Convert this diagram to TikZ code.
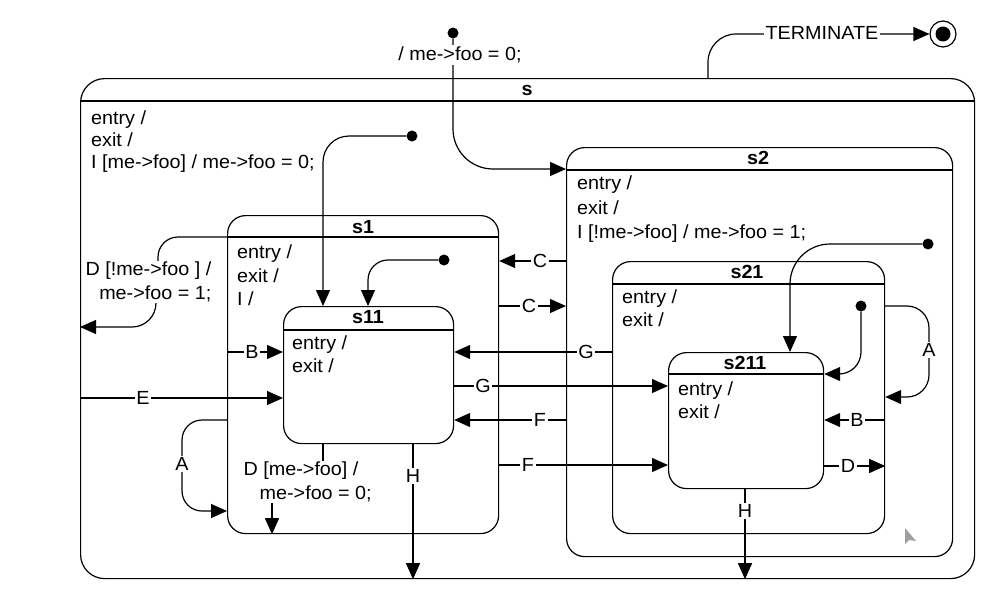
\documentclass[tikz,border=0pt]{standalone}
\usepackage{fontspec}
\setmainfont{Liberation Sans}[FakeStretch=1.04]
\usetikzlibrary{arrows.meta}
\begin{document}
\begin{tikzpicture}[x=1pt,y=-1pt,
  font=\fontsize{19}{23.5}\selectfont,
  state/.style={draw, line width=1.2pt, rounded corners=18pt, inner sep=0pt, anchor=north west},
  hdr/.style={line width=1.2pt},
  title/.style={inner sep=0pt, font=\fontsize{19}{23.5}\selectfont\bfseries},
  act/.style={inner sep=0pt, anchor=base west},
  lbl/.style={fill=white, inner sep=1.5pt},
  arr/.style={line width=1.2pt, -{Triangle[length=16pt,width=14pt]}},
  initdot/.style={circle, fill, minimum size=11pt, inner sep=0pt},
  final/.style={circle, draw, line width=1.2pt, minimum size=26pt, inner sep=0pt,
    path picture={\fill (path picture bounding box.center) circle (7.5pt);}}
]
\useasboundingbox (0,0) rectangle (1006,597);

% ---------- states ----------
\node[state, rounded corners=24pt, minimum width=894pt, minimum height=500pt] (s) at (80,78) {};
\draw[hdr] (s.west |- 0,101) -- (s.east |- 0,101);
\node[title] (st) at (527,90) {s};
\node[act] (sa1) at (91,124) {entry /};
\node[act] (sa2) at (91,146) {exit /};
\node[act] (sa3) at (91,168) {I [me->foo] / me->foo = 0;};

\node[state, minimum width=271pt, minimum height=318pt] (s1) at (227,215) {};
\draw[hdr] (s1.west |- 0,237) -- (s1.east |- 0,237);
\node[title] (s1t) at (363,227) {s1};
\node[act] (s1a1) at (237,258) {entry /};
\node[act] (s1a2) at (237,282) {exit /};
\node[act] (s1a3) at (237,305) {I /};

\node[state, minimum width=170pt, minimum height=137pt] (s11) at (283,306) {};
\draw[hdr] (s11.west |- 0,330) -- (s11.east |- 0,330);
\node[title] (s11t) at (368,317) {s11};
\node[act] (s11a1) at (292,349) {entry /};
\node[act] (s11a2) at (292,372) {exit /};

\node[state, minimum width=386pt, minimum height=409pt] (s2) at (566,147) {};
\draw[hdr] (s2.west |- 0,170) -- (s2.east |- 0,170);
\node[title] (s2t) at (758,158) {s2};
\node[act] (s2a1) at (577,189) {entry /};
\node[act] (s2a2) at (577,214) {exit /};
\node[act] (s2a3) at (577,238) {I [!me->foo] / me->foo = 1;};

\node[state, minimum width=272pt, minimum height=272pt] (s21) at (612,261) {};
\draw[hdr] (s21.west |- 0,284) -- (s21.east |- 0,284);
\node[title] (s21t) at (747,272) {s21};
\node[act] (s21a1) at (622,303) {entry /};
\node[act] (s21a2) at (622,326) {exit /};

\node[state, minimum width=155pt, minimum height=136pt] (s211) at (668,352) {};
\draw[hdr] (s211.west |- 0,374) -- (s211.east |- 0,374);
\node[title] (s211t) at (745,363) {s211};
\node[act] (s211a1) at (678,395) {entry /};
\node[act] (s211a2) at (678,418) {exit /};

% ---------- pseudo states ----------
\node[initdot] (i0) at (453,33) {};
\node[initdot] (i1) at (412,136) {};
\node[initdot] (i2) at (444,260) {};
\node[initdot] (i3) at (928,244) {};
\node[initdot] (i4) at (861,306) {};
\node[final] (fin) at (943,34) {};

% ---------- initial transitions ----------
\draw[arr, rounded corners=40pt] (i0) -- (453,169) -- (s2.west |- 0,169);
\node[lbl] (l0) at (460,55) {/ me->foo = 0;};
\draw[arr, rounded corners=26pt] (i1) -- (323,136) -- (s11.north -| 323,0);
\draw[arr, rounded corners=20pt] (i2) -- (368,260) -- (s11.north -| 368,0);
\draw[arr, rounded corners=40pt] (i3) -- (790,244) -- (s211.north -| 790,0);
\draw[arr, rounded corners=22pt] (i4) -- (861,374) -- (s211.east |- 0,374);

% ---------- TERMINATE ----------
\draw[arr, rounded corners=28pt] (s.north -| 708,0) -- (708,34) -- (fin);
\node[lbl] (lt) at (822,33) {TERMINATE};

% ---------- transitions of s / s1 / s11 ----------
\draw[line width=1.2pt, rounded corners=20pt] (s1.west |- 0,237) -- (158,237) -- (158,285);
\draw[arr, rounded corners=24pt] (156,285) -- (156,327) -- (s.west |- 0,327);
\node[lbl, align=right, anchor=east] (ld1) at (213,282) {D [!me->foo ] /\\me->foo = 1;};

\draw[arr] (s1.west |- 0,352) -- (s11.west |- 0,352);
\node[lbl] (lb1) at (252,352) {B};
\draw[arr] (s.west |- 0,398) -- (s11.west |- 0,398);
\node[lbl] (le) at (143,398) {E};
\draw[arr, rounded corners=20pt] (s1.west |- 0,420) -- (182,420) -- (182,511) -- (s1.west |- 0,511);
\node[lbl] (la1) at (182,464) {A};

\draw[arr] (s11.south -| 323,0) -- (323,480) -- (272,480) -- (s1.south -| 272,0);
\node[lbl, align=left, anchor=west] (ld2) at (242,482) {D [me->foo] /\\\hspace*{16pt}me->foo = 0;};

\draw[arr] (s11.south -| 413,0) -- (s.south -| 413,0);
\node[lbl] (lh1) at (413,476) {H};

% ---------- transitions between s1 and s2 ----------
\draw[arr] (s2.west |- 0,261) -- (s1.east |- 0,261);
\node[lbl] (lc1) at (540,261) {C};
\draw[arr] (s1.east |- 0,306) -- (s2.west |- 0,306);
\node[lbl] (lc2) at (529,306) {C};
\draw[arr] (s21.west |- 0,352) -- (s11.east |- 0,352);
\node[lbl] (lg1) at (586,352) {G};
\draw[arr] (s11.east |- 0,386) -- (s211.west |- 0,386);
\node[lbl] (lg2) at (483,386) {G};
\draw[arr] (s2.west |- 0,420) -- (s11.east |- 0,420);
\node[lbl] (lf1) at (540,420) {F};
\draw[arr] (s1.east |- 0,465) -- (s211.west |- 0,465);
\node[lbl] (lf2) at (528,465) {F};

% ---------- transitions of s2 / s21 / s211 ----------
\draw[arr, rounded corners=22pt] (s21.east |- 0,306) -- (929,306) -- (929,397) -- (s21.east |- 0,397);
\node[lbl] (la2) at (929,350) {A};
\draw[arr] (s21.east |- 0,420) -- (s211.east |- 0,420);
\node[lbl] (lb2) at (857,420) {B};
\draw[arr] (s211.east |- 0,466) -- (s21.east |- 0,466);
\node[lbl] (ld3) at (848,466) {D};
\draw[arr] (s211.south -| 745,0) -- (s.south -| 745,0);
\node[lbl] (lh2) at (745,511) {H};

% ---------- mouse pointer ----------
\fill[gray!75] (905,528) -- (905,544) -- (909,540) -- (916,541) -- cycle;
\end{tikzpicture}
\end{document}
